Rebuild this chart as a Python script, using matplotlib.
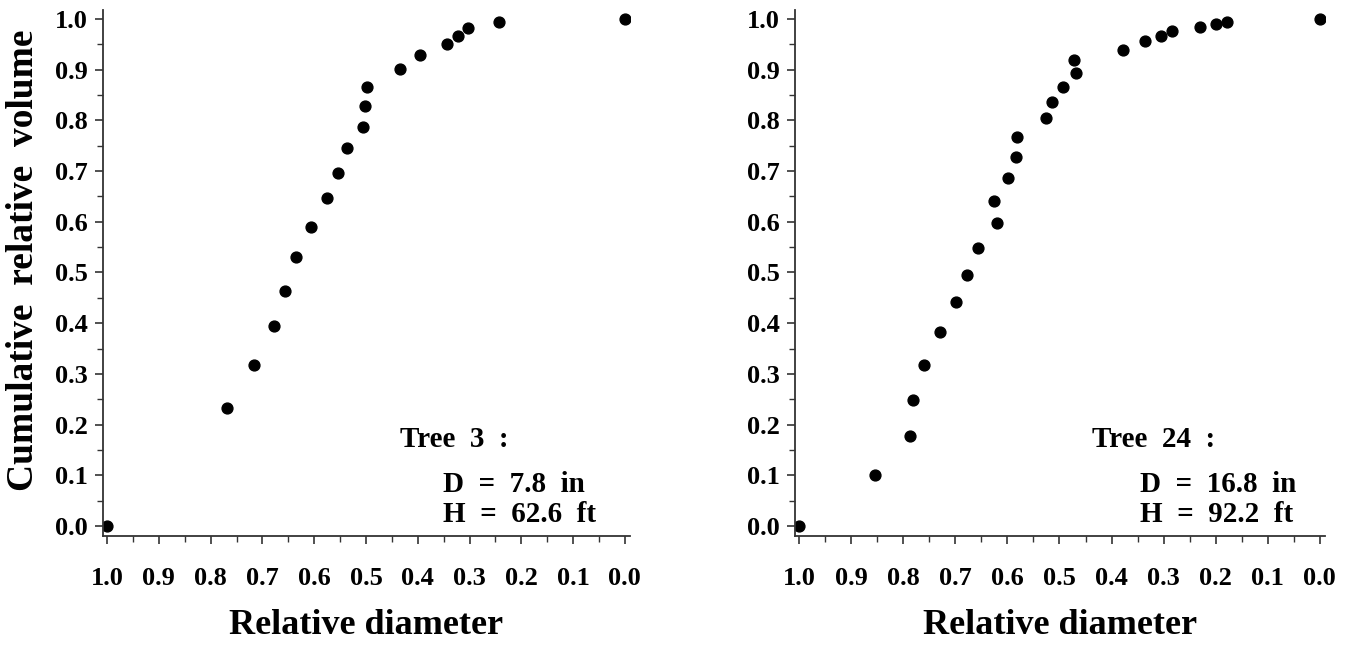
import matplotlib
matplotlib.use("Agg")
import matplotlib.pyplot as plt
from matplotlib.ticker import MultipleLocator, FormatStrFormatter

# Tree 3 data
t3_diam = [1.0, 0.768, 0.716, 0.677, 0.657, 0.636, 0.607, 0.575, 0.555, 0.536,
           0.505, 0.502, 0.499, 0.434, 0.395, 0.343, 0.323, 0.303, 0.243, 0.0]
t3_vol = [0.0, 0.233, 0.318, 0.394, 0.463, 0.530, 0.590, 0.647, 0.697, 0.745,
          0.788, 0.828, 0.867, 0.902, 0.929, 0.950, 0.967, 0.983, 0.994, 1.0]

# Tree 24 data
t24_diam = [1.0, 0.855, 0.787, 0.781, 0.760, 0.729, 0.698, 0.677, 0.656, 0.620,
            0.625, 0.599, 0.583, 0.581, 0.526, 0.515, 0.494, 0.472, 0.468, 0.378,
            0.336, 0.305, 0.283, 0.231, 0.200, 0.178, 0.0]
t24_vol = [0.0, 0.100, 0.178, 0.249, 0.317, 0.382, 0.441, 0.496, 0.549, 0.597,
           0.642, 0.687, 0.728, 0.768, 0.805, 0.837, 0.866, 0.919, 0.894, 0.940,
           0.956, 0.967, 0.977, 0.985, 0.990, 0.995, 1.0]

t3_info = ["Tree  3  :", "D  =  7.8  in", "H  =  62.6  ft"]
t24_info = ["Tree  24  :", "D  =  16.8  in", "H  =  92.2  ft"]

xlabel = "Relative diameter"
ylabel = "Cumulative  relative  volume"

plt.rcParams['font.family'] = ['Liberation Serif', 'DejaVu Serif']
plt.rcParams['font.weight'] = 'bold'

fig = plt.figure(figsize=(13.5, 6.45), dpi=100)
W, H = 1350, 645

def make_ax(x0, x1, y_top, y_bot):
    return fig.add_axes([x0 / W, (H - y_bot) / H, (x1 - x0) / W, (y_bot - y_top) / H])

ax1 = make_ax(103, 630, 10, 536)
ax2 = make_ax(795, 1325, 10, 536)

def style(ax, xs, ys, info, info_x1, info_x2):
    ax.plot(xs, ys, 'o', color='black', markersize=7.8)
    ax.set_xlim(1.008, -0.01)
    ax.set_ylim(-0.02, 1.018)
    for s in ['top', 'right']:
        ax.spines[s].set_visible(False)
    for s in ['left', 'bottom']:
        ax.spines[s].set_linewidth(1.3)
        ax.spines[s].set_color('#333333')
    ax.xaxis.set_major_locator(MultipleLocator(0.1))
    ax.xaxis.set_minor_locator(MultipleLocator(0.05))
    ax.yaxis.set_major_locator(MultipleLocator(0.1))
    ax.yaxis.set_minor_locator(MultipleLocator(0.05))
    ax.xaxis.set_major_formatter(FormatStrFormatter('%.1f'))
    ax.yaxis.set_major_formatter(FormatStrFormatter('%.1f'))
    ax.tick_params(axis='both', which='major', direction='out', length=6, width=1.2,
                   labelsize=19, color='#333333')
    ax.tick_params(axis='both', which='minor', direction='out', length=4, width=1.0,
                   color='#333333')
    ax.tick_params(axis='x', which='major', pad=16)
    ax.tick_params(axis='y', which='major', pad=5)
    for lab in ax.get_xticklabels() + ax.get_yticklabels():
        lab.set_fontweight('bold')
    ax.set_xlabel(xlabel, fontsize=26, fontweight='bold', labelpad=14)
    ax.text(info_x1, 0.17, info[0], fontsize=21, fontweight='bold', va='center', ha='left')
    ax.text(info_x2, 0.081, info[1], fontsize=21, fontweight='bold', va='center', ha='left')
    ax.text(info_x2, 0.022, info[2], fontsize=21, fontweight='bold', va='center', ha='left')

style(ax1, t3_diam, t3_vol, t3_info, 0.434, 0.351)
style(ax2, t24_diam, t24_vol, t24_info, 0.437, 0.346)
ax1.set_ylabel(ylabel, fontsize=27, fontweight='bold')
ax1.yaxis.set_label_coords(-0.118, 0.525)

fig.savefig("out.png", dpi=100)
